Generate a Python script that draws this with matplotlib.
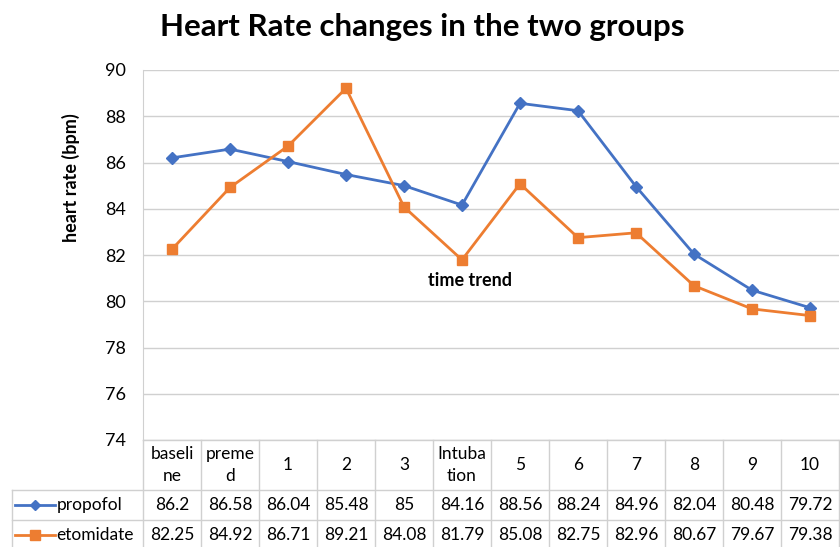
import matplotlib.pyplot as plt
import matplotlib.transforms as mtransforms
from matplotlib.lines import Line2D

plt.rcParams['font.family'] = ['Lato', 'DejaVu Sans']

categories = ["baseli\nne", "preme\nd", "1", "2", "3", "Intuba\ntion",
              "5", "6", "7", "8", "9", "10"]
propofol = [86.2, 86.58, 86.04, 85.48, 85, 84.16, 88.56, 88.24, 84.96, 82.04, 80.48, 79.72]
etomidate = [82.25, 84.92, 86.71, 89.21, 84.08, 81.79, 85.08, 82.75, 82.96, 80.67, 79.67, 79.38]
prop_labels = ["86.2", "86.58", "86.04", "85.48", "85", "84.16",
               "88.56", "88.24", "84.96", "82.04", "80.48", "79.72"]
etom_labels = ["82.25", "84.92", "86.71", "89.21", "84.08", "81.79",
               "85.08", "82.75", "82.96", "80.67", "79.67", "79.38"]

blue = "#4472C4"
orange = "#ED7D31"
grid_c = "#d0d0d0"

fig = plt.figure(figsize=(8.4, 5.47), dpi=100)
ax = fig.add_axes([143 / 840, 1 - 440 / 547, 696 / 840, 370 / 547])

x = list(range(len(categories)))
ax.plot(x, propofol, color=blue, lw=2, marker="D", ms=6, zorder=3)
ax.plot(x, etomidate, color=orange, lw=2, marker="s", ms=7, zorder=3)

ax.set_xlim(-0.5, len(categories) - 0.5)
ax.set_ylim(74, 90)
ax.set_yticks(range(74, 91, 2))
ax.tick_params(axis="y", length=0, labelsize=13, pad=12)
ax.set_xticks([])
ax.grid(True, axis="y", color=grid_c, lw=1)
ax.set_axisbelow(True)
for s in ["top", "right", "bottom"]:
    ax.spines[s].set_visible(False)
ax.spines["left"].set_color(grid_c)

ax.set_ylabel("heart rate (bpm)", fontsize=13, fontweight="bold")
ax.yaxis.set_label_coords(-0.09, 0.708)
ax.text(0.47, 0.43, "time trend", transform=ax.transAxes,
        ha="center", va="center", fontsize=13, fontweight="bold")

fig.text(0.503, 0.95, "Heart Rate changes in the two groups",
         ha="center", va="center", fontsize=22.5, fontweight="bold")

# data table below the axes
tr = mtransforms.blended_transform_factory(ax.transData, ax.transAxes)
y0, y1, y2, y3 = 0.0, -50 / 370, -80 / 370, -110 / 370
xl = (12 - 143) / 58.0 - 0.5
n = len(categories)
kw = dict(color=grid_c, lw=1, transform=tr, clip_on=False)
ax.add_line(Line2D([-0.5, n - 0.5], [y0, y0], **kw))
ax.add_line(Line2D([xl, n - 0.5], [y1, y1], **kw))
ax.add_line(Line2D([xl, n - 0.5], [y2, y2], **kw))
ax.add_line(Line2D([xl, xl], [y1, y3], **kw))
for i in range(n + 1):
    ax.add_line(Line2D([i - 0.5, i - 0.5], [y0, y3], **kw))

fs = 12.5
for i, lab in enumerate(categories):
    ax.text(i, (y0 + y1) / 2, lab, transform=tr, ha="center", va="center",
            fontsize=fs, linespacing=1.4, clip_on=False)
    ax.text(i, (y1 + y2) / 2, prop_labels[i], transform=tr, ha="center",
            va="center", fontsize=fs, clip_on=False)
    ax.text(i, (y2 + y3) / 2, etom_labels[i], transform=tr, ha="center",
            va="center", fontsize=fs, clip_on=False)

# legend keys in row headers
kx0 = (15 - 143) / 58.0 - 0.5
kx1 = (55 - 143) / 58.0 - 0.5
for yy, c, m, ms, name in [((y1 + y2) / 2, blue, "D", 5, "propofol"),
                           ((y2 + y3) / 2, orange, "s", 7, "etomidate")]:
    ax.add_line(Line2D([kx0, kx1], [yy, yy], color=c, lw=2, transform=tr,
                       clip_on=False))
    ax.add_line(Line2D([(kx0 + kx1) / 2], [yy], color=c, marker=m, ms=ms,
                       transform=tr, clip_on=False))
    ax.text(kx1 + 0.03, yy, name, transform=tr, ha="left", va="center",
            fontsize=fs, clip_on=False)

fig.savefig("out.png", dpi=100)
